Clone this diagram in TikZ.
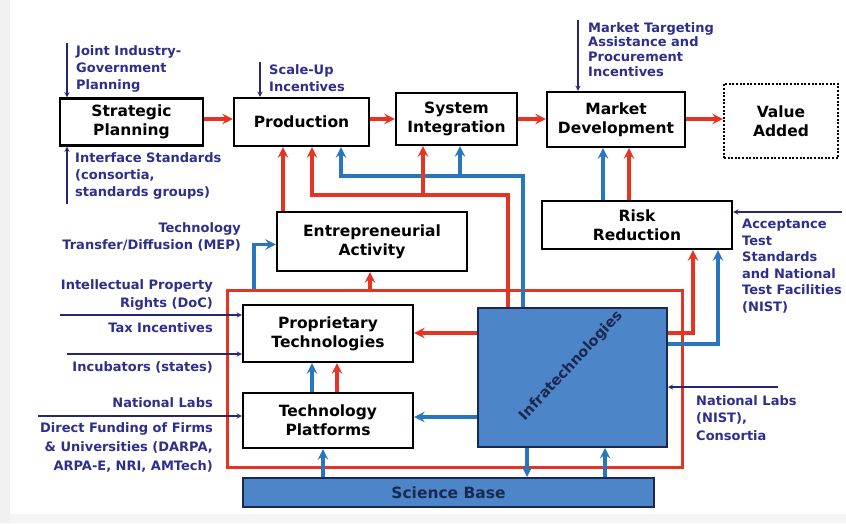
\documentclass[tikz,border=0pt]{standalone}
\usepackage{fontspec}
\setmainfont{DejaVu Sans}
\usetikzlibrary{arrows}
\definecolor{navyin}{RGB}{46,46,140}
\definecolor{flowred}{RGB}{230,52,34}
\definecolor{flowblue}{RGB}{40,118,190}
\definecolor{infrafill}{RGB}{76,134,200}
\definecolor{darkedge}{RGB}{28,40,80}

\begin{document}
\begin{tikzpicture}[>=stealth, x=1pt, y=-1pt,
    every node/.style={font=\fontsize{15.5}{19}\selectfont\bfseries,
                       align=center, inner sep=0pt},
    box/.style={draw=black, line width=2.4pt, fill=white},
    inlab/.style={font=\fontsize{13}{17}\selectfont\bfseries, text=navyin},
    inarr/.style={->, draw=navyin!85!black, line width=1.3pt},
    redarr/.style={->, draw=flowred, line width=3.5pt},
    bluearr/.style={->, draw=flowblue, line width=3.5pt}]
  \useasboundingbox (0,0) rectangle (846,523);
  \fill[gray!12] (0,0) rectangle (10,523);
  \fill[gray!8] (10,514) rectangle (846,523);

  % value chain along the top
  \node[box, minimum width=143, minimum height=47] (strat) at (131.5,122) {Strategic\\Planning};
  \node[box, minimum width=135, minimum height=48] (prod) at (301.5,122) {Production};
  \node[box, minimum width=121, minimum height=52] (sysint) at (456.5,119) {System\\Integration};
  \node[box, minimum width=138, minimum height=55] (mktdev) at (616,119.5) {Market\\Development};
  \node[box, dash pattern=on 2pt off 1.6pt, minimum width=114, minimum height=74] (value) at (781,121) {Value\\Added};
  \foreach \a/\b in {strat/prod, prod/sysint, sysint/mktdev, mktdev/value}
    \draw[redarr] (\a.east |- 0,119) -- (\b.west |- 0,119);

  % middle layer
  \node[box, minimum width=190, minimum height=59] (entre) at (372,241.5) {Entrepreneurial\\Activity};
  \node[box, minimum width=190, minimum height=48] (risk) at (637,225) {Risk\\Reduction};

  % technology layer inside the red frame
  \node[draw=flowred, line width=3pt, minimum width=455, minimum height=177] (frame) at (454.5,378.5) {};
  \node[box, minimum width=170, minimum height=57] (prop) at (328,333.5) {Proprietary\\Technologies};
  \node[box, minimum width=170, minimum height=55] (plat) at (328,420.5) {Technology\\Platforms};
  \node[draw=darkedge, line width=2pt, fill=infrafill, minimum width=189, minimum height=139] (infra) at (572.5,377.5) {};
  \node[rotate=47, text=darkedge, font=\fontsize{14.5}{17}\selectfont\bfseries] (infralab) at (571,366) {Infratechnologies};
  \node[draw=darkedge, line width=2pt, fill=infrafill, text=darkedge, minimum width=411, minimum height=29] (sci) at (448.5,492.5) {Science Base};

  % flows up into production and system integration
  \draw[redarr] (entre.north -| 283,0) -- (prod.south -| 283,0);
  \draw[bluearr] (infra.north -| 523,0) |- (341,176) -- (prod.south -| 341,0);
  \draw[bluearr] (460,176) -- (sysint.south -| 460,0);
  \draw[redarr] (infra.north -| 508,0) |- (312,195) -- (prod.south -| 312,0);
  \draw[redarr] (423,195) -- (sysint.south -| 423,0);
  \draw[redarr] (frame.north -| 370,0) -- (entre.south -| 370,0);
  \draw[bluearr] (frame.north -| 254,0) |- ([yshift=-3pt]entre.west);

  % risk reduction and market development
  \foreach \x/\c in {603/flowblue, 629/flowred}
    \draw[->, draw=\c, line width=3.5pt] (risk.north -| \x,0) -- (mktdev.south -| \x,0);
  \draw[redarr] (infra.east |- 0,333) -| (risk.south -| 693,0);
  \draw[bluearr] (infra.east |- 0,344) -| (risk.south -| 718,0);

  % inside the frame
  \draw[redarr] (infra.west |- 0,333) -- (prop.east |- 0,333);
  \draw[bluearr] (infra.west |- 0,417) -- (plat.east |- 0,417);
  \draw[bluearr] (plat.north -| 312,0) -- (prop.south -| 312,0);
  \draw[redarr] (plat.north -| 337,0) -- (prop.south -| 337,0);
  \draw[bluearr] (sci.north -| 323,0) -- (plat.south -| 323,0);
  \draw[bluearr] (infra.south -| 527,0) -- (sci.north -| 527,0);
  \draw[bluearr] (sci.north -| 605,0) -- (infra.south -| 605,0);

  % policy inputs
  \node[inlab, anchor=north west, align=left] (jigp) at (76,45) {Joint Industry-\\Government\\Planning};
  \node[inlab, anchor=north west, align=left] (ifstd) at (75,152) {Interface Standards\\(consortia,\\standards groups)};
  \node[inlab, anchor=north west, align=left] (scaleup) at (269,64) {Scale-Up\\Incentives};
  \node[inlab, anchor=north west, align=left, font=\fontsize{13}{14.7}\selectfont\bfseries] (mkttarget) at (588,22) {Market Targeting\\Assistance and\\Procurement\\Incentives};
  \node[inlab, anchor=north east, align=right] (techtr) at (241,222) {Technology\\Transfer/Diffusion (MEP)};
  \node[inlab, anchor=north east, align=right, font=\fontsize{13}{18}\selectfont\bfseries] (ipr) at (213,279) {Intellectual Property\\Rights (DoC)};
  \node[inlab, anchor=north east] (tax) at (213,322) {Tax Incentives};
  \node[inlab, anchor=north east] (incub) at (213,361) {Incubators (states)};
  \node[inlab, anchor=north east] (natlabs) at (213,397) {National Labs};
  \node[inlab, anchor=north east, align=right, font=\fontsize{13}{19.3}\selectfont\bfseries] (direct) at (213,422) {Direct Funding of Firms\\\& Universities (DARPA,\\ARPA-E, NRI, AMTech)};
  \node[inlab, anchor=north west, align=left, font=\fontsize{13}{16.5}\selectfont\bfseries] (accept) at (742,219) {Acceptance\\Test\\Standards\\and National\\Test Facilities\\(NIST)};
  \node[inlab, anchor=north west, align=left, font=\fontsize{13}{17.5}\selectfont\bfseries] (nistlabs) at (696,395) {National Labs\\(NIST),\\Consortia};

  \coordinate (jigpin) at (67,43);
  \coordinate (ifstdin) at (67,204);
  \coordinate (scalein) at (260,62);
  \coordinate (mktin) at (578,20);
  \coordinate (iprin) at (60,315);
  \coordinate (incubin) at (67,354);
  \coordinate (natin) at (38,416);
  \coordinate (acceptin) at (842,212);
  \coordinate (nistin) at (778,387);
  \draw[inarr] (jigpin) -- (jigpin |- strat.north);
  \draw[inarr] (ifstdin) -- (ifstdin |- strat.south);
  \draw[inarr] (scalein) -- (scalein |- prod.north);
  \draw[inarr] (mktin) -- (mktin |- mktdev.north);
  \foreach \p/\n in {iprin/prop, incubin/prop, natin/plat}
    \draw[inarr] (\p) -- (\p -| \n.west);
  \draw[inarr] (acceptin) -- (acceptin -| risk.east);
  \draw[inarr] (nistin) -- (nistin -| infra.east);
\end{tikzpicture}
\end{document}
